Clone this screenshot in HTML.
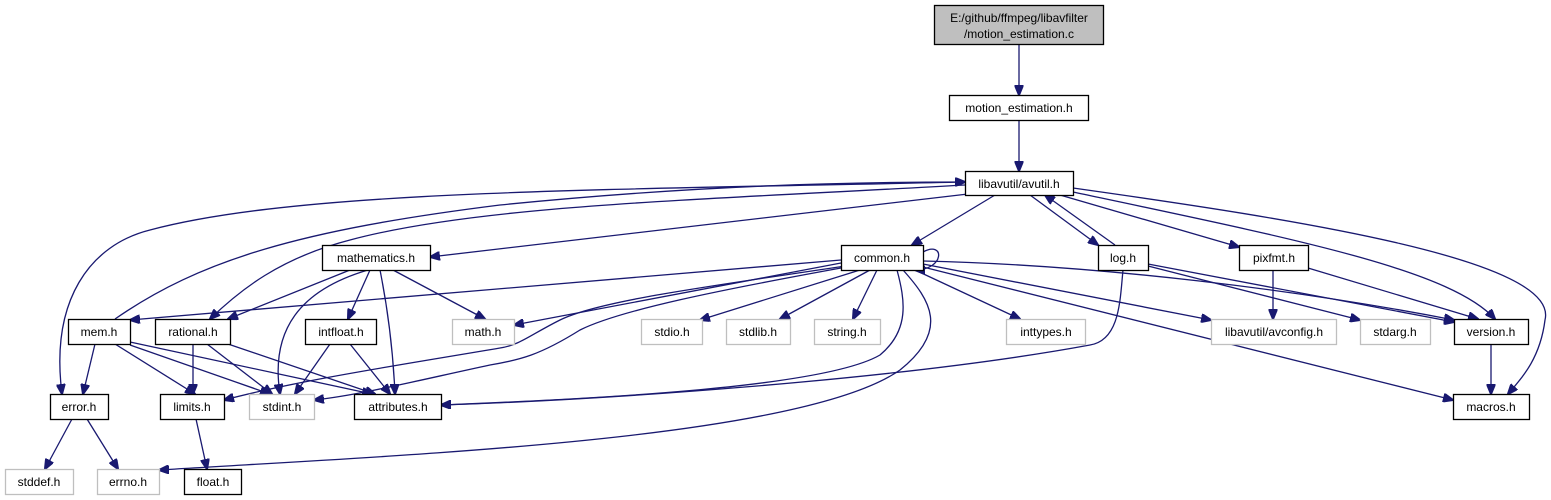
<!DOCTYPE html>
<html><head><meta charset="utf-8"><style>
html,body{margin:0;padding:0;background:#fff;}
svg{display:block;}
text{font-family:"Liberation Sans",Arial,sans-serif;font-size:12px;fill:#000;text-anchor:middle;}
.n{fill:#fff;stroke:#000;stroke-width:1.3;}
.g{fill:#fff;stroke:#bfbfbf;stroke-width:1.3;}
path{fill:none;stroke:#191970;stroke-width:1.3;}
</style></head><body>
<svg width="1551" height="500" viewBox="0 0 1551 500" xmlns="http://www.w3.org/2000/svg">
<defs><marker id="a" markerWidth="11" markerHeight="9" refX="10" refY="4.5" orient="auto" markerUnits="userSpaceOnUse"><path d="M0,0 L11,4.5 L0,9 Z" style="fill:#191970;stroke:#191970"/></marker></defs>
<g marker-end="url(#a)">
<path d="M1019,45 L1019,95"/>
<path d="M1019,120 L1019,171"/>
<path d="M995,195 L912,245"/>
<path d="M968,194 L430,257"/>
<path d="M1030,195 L1098,245"/>
<path d="M1115,245 L1045,195"/>
<path d="M1060,195 L1239,247"/>
<path d="M1073,192 C1300,240 1450,270 1495,319"/>
<path d="M1073,188 C1300,220 1560,260 1545,320 C1540,360 1520,380 1508,394"/>
<path d="M965,182 C600,190 300,190 150,230 C90,245 50,300 62,394"/>
<path d="M115,319 C200,260 300,230 500,205 C700,185 850,182 965,182"/>
<path d="M965,185 C700,200 480,205 350,240 C280,258 240,290 210,319"/>
<path d="M923,252 C945,240 945,270 915,270"/>
<path d="M841,260 L130,320"/>
<path d="M841,263 L514,325"/>
<path d="M845,266 C720,285 600,300 560,320 C530,335 520,345 500,348 C400,365 300,380 224,400"/>
<path d="M841,268 C720,290 620,310 580,330 C540,355 520,360 490,365 C420,380 360,395 314,400"/>
<path d="M897,270 C905,300 910,330 880,355 C820,390 560,400 441,405"/>
<path d="M903,270 C930,300 950,330 900,370 C800,440 400,455 159,470"/>
<path d="M860,270 L700,320"/>
<path d="M870,270 L780,319"/>
<path d="M877,270 L853,319"/>
<path d="M915,270 L1020,319"/>
<path d="M923,264 L1211,320"/>
<path d="M923,267 L1453,400"/>
<path d="M923,261 C1100,265 1300,290 1454,320"/>
<path d="M1148,264 L1454,322"/>
<path d="M1148,266 L1360,320"/>
<path d="M1123,270 C1120,300 1120,340 1090,345 C900,380 600,400 441,405"/>
<path d="M1273,270 L1273,319"/>
<path d="M1308,268 L1478,319"/>
<path d="M1491,344 L1491,394"/>
<path d="M350,270 L228,319"/>
<path d="M368,270 C300,290 270,330 280,394"/>
<path d="M370,270 L348,319"/>
<path d="M380,270 C388,310 393,350 395,394"/>
<path d="M393,270 L485,319"/>
<path d="M95,344 L83,394"/>
<path d="M115,344 L195,394"/>
<path d="M130,345 L270,394"/>
<path d="M130,342 L372,394"/>
<path d="M193,344 L193,394"/>
<path d="M207,344 L272,394"/>
<path d="M228,344 L375,394"/>
<path d="M330,344 L295,394"/>
<path d="M350,344 L390,394"/>
<path d="M72,419 L45,469"/>
<path d="M87,419 L118,469"/>
<path d="M196,419 L207,469"/>
</g>
<rect x="934.5" y="5.5" width="169" height="39" style="fill:#bfbfbf;stroke:#000;stroke-width:1.3"/>
<text x="1019" y="22">E:/github/ffmpeg/libavfilter</text>
<text x="1019" y="38">/motion_estimation.c</text>
<rect class="n" x="949.5" y="95.5" width="139" height="25"/><text x="1019" y="112">motion_estimation.h</text>
<rect class="n" x="965.5" y="171.5" width="108" height="24"/><text x="1019" y="188">libavutil/avutil.h</text>
<rect class="n" x="322.5" y="245.5" width="108" height="25"/><text x="376" y="262">mathematics.h</text>
<rect class="n" x="841.5" y="245.5" width="82" height="25"/><text x="882" y="262">common.h</text>
<rect class="n" x="1098.5" y="245.5" width="50" height="25"/><text x="1123" y="262">log.h</text>
<rect class="n" x="1239.5" y="245.5" width="69" height="25"/><text x="1274" y="262">pixfmt.h</text>
<rect class="n" x="68.5" y="319.5" width="62" height="25"/><text x="99" y="336">mem.h</text>
<rect class="n" x="155.5" y="319.5" width="75" height="25"/><text x="193" y="336">rational.h</text>
<rect class="n" x="305.5" y="319.5" width="71" height="25"/><text x="341" y="336">intfloat.h</text>
<rect class="g" x="452.5" y="319.5" width="62" height="25"/><text x="483" y="336">math.h</text>
<rect class="g" x="641.5" y="319.5" width="61" height="25"/><text x="672" y="336">stdio.h</text>
<rect class="g" x="726.5" y="319.5" width="64" height="25"/><text x="758" y="336">stdlib.h</text>
<rect class="g" x="814.5" y="319.5" width="66" height="25"/><text x="847" y="336">string.h</text>
<rect class="g" x="1006.5" y="319.5" width="79" height="25"/><text x="1046" y="336">inttypes.h</text>
<rect class="g" x="1211.5" y="319.5" width="125" height="25"/><text x="1274" y="336">libavutil/avconfig.h</text>
<rect class="g" x="1360.5" y="319.5" width="70" height="25"/><text x="1395" y="336">stdarg.h</text>
<rect class="n" x="1454.5" y="319.5" width="74" height="25"/><text x="1491" y="336">version.h</text>
<rect class="n" x="50.5" y="394.5" width="58" height="25"/><text x="79" y="411">error.h</text>
<rect class="n" x="160.5" y="394.5" width="64" height="25"/><text x="192" y="411">limits.h</text>
<rect class="g" x="249.5" y="394.5" width="65" height="25"/><text x="282" y="411">stdint.h</text>
<rect class="n" x="354.5" y="394.5" width="87" height="25"/><text x="398" y="411">attributes.h</text>
<rect class="n" x="1453.5" y="394.5" width="76" height="25"/><text x="1491" y="411">macros.h</text>
<rect class="g" x="5.5" y="469.5" width="68" height="25"/><text x="39" y="486">stddef.h</text>
<rect class="g" x="97.5" y="469.5" width="62" height="25"/><text x="128" y="486">errno.h</text>
<rect class="n" x="184.5" y="469.5" width="57" height="25"/><text x="213" y="486">float.h</text>
</svg>
</body></html>
